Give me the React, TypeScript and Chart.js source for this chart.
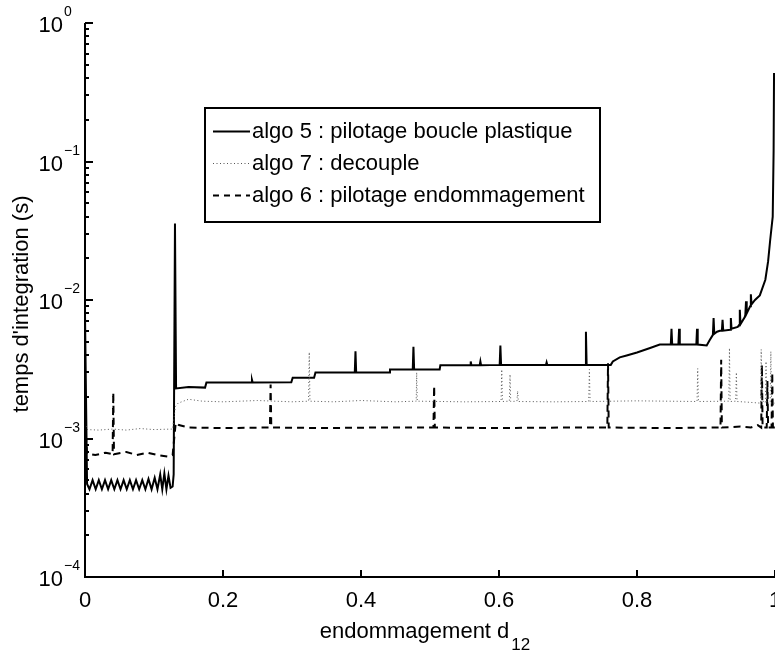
import React, { useEffect, useRef } from 'react';
import { Chart, registerables } from 'chart.js';

Chart.register(...registerables);

// ---------- data (x = endommagement d12, y = temps d'integration in s) ----------
const algo5: [number, number][] = [
  [0, 0.008], [0.003, 0.00047], [0.0065, 0.00043], [0.011, 0.0005], [0.0155, 0.00043], [0.02, 0.0005],
  [0.0245, 0.00043], [0.029, 0.0005], [0.0335, 0.00043], [0.038, 0.0005], [0.0425, 0.00043], [0.047, 0.0005],
  [0.0515, 0.00043], [0.056, 0.0005], [0.0605, 0.00043], [0.065, 0.0005], [0.0695, 0.00043], [0.074, 0.0005],
  [0.0785, 0.00043], [0.083, 0.0005], [0.0875, 0.00043], [0.092, 0.00051], [0.0965, 0.00043], [0.101, 0.00052],
  [0.105, 0.00043], [0.109, 0.00055], [0.112, 0.00043], [0.115, 0.00056], [0.118, 0.00043], [0.121, 0.00054],
  [0.124, 0.00044], [0.127, 0.00045], [0.1285, 0.00055], [0.1304, 0.0356], [0.132, 0.0023], [0.15, 0.00235],
  [0.174, 0.00233], [0.176, 0.00254], [0.241, 0.00254], [0.242, 0.00265], [0.243, 0.00254], [0.299, 0.00255],
  [0.301, 0.00275], [0.332, 0.00275], [0.334, 0.003], [0.391, 0.003], [0.392, 0.00427], [0.393, 0.003],
  [0.441, 0.003], [0.442, 0.00315], [0.475, 0.00315], [0.476, 0.0046], [0.477, 0.00315], [0.514, 0.00315],
  [0.515, 0.00338], [0.558, 0.00338], [0.559, 0.0036], [0.56, 0.00338], [0.572, 0.00338], [0.573, 0.0036],
  [0.574, 0.00338], [0.601, 0.0034], [0.602, 0.0047], [0.603, 0.0034], [0.668, 0.0034], [0.669, 0.00355],
  [0.67, 0.0034], [0.725, 0.0034], [0.726, 0.0059], [0.727, 0.0034], [0.762, 0.0034], [0.765, 0.0036],
  [0.775, 0.00385], [0.785, 0.00398], [0.8, 0.00418], [0.819, 0.0045], [0.833, 0.00477], [0.849, 0.00477],
  [0.85, 0.0062], [0.851, 0.00477], [0.86, 0.00477], [0.861, 0.0062], [0.862, 0.00477], [0.886, 0.00477],
  [0.887, 0.0062], [0.888, 0.00477], [0.901, 0.0047], [0.905, 0.0051], [0.91, 0.0056], [0.911, 0.0074],
  [0.912, 0.0057], [0.916, 0.0059], [0.92, 0.006], [0.923, 0.006], [0.924, 0.0072], [0.925, 0.006],
  [0.935, 0.0061], [0.936, 0.0074], [0.937, 0.0062], [0.946, 0.0064], [0.948, 0.0066], [0.949, 0.0085],
  [0.95, 0.0067], [0.956, 0.0075], [0.957, 0.0078], [0.958, 0.0098], [0.959, 0.008], [0.964, 0.009],
  [0.965, 0.011], [0.966, 0.0093], [0.971, 0.01], [0.978, 0.0108], [0.986, 0.014], [0.99, 0.019],
  [0.993, 0.027], [0.9967, 0.04], [0.998, 0.12], [0.9986, 0.436],
];

const algo7: [number, number][] = [
  [0, 0.0013], [0.003, 0.00116], [0.02, 0.00115], [0.04, 0.00117], [0.06, 0.00115], [0.08, 0.00118],
  [0.1, 0.00116], [0.127, 0.00117], [0.131, 0.0017], [0.135, 0.0018], [0.15, 0.00192], [0.17, 0.00186],
  [0.2, 0.00184], [0.25, 0.00188], [0.3, 0.00184], [0.324, 0.00186], [0.325, 0.0042], [0.326, 0.00186],
  [0.36, 0.00184], [0.4, 0.00188], [0.45, 0.00184], [0.48, 0.00186], [0.4807, 0.003], [0.4815, 0.00186],
  [0.55, 0.00184], [0.603, 0.00185], [0.604, 0.00315], [0.605, 0.00185], [0.615, 0.00186], [0.616, 0.0029],
  [0.617, 0.00185], [0.626, 0.00186], [0.627, 0.0022], [0.628, 0.00185], [0.68, 0.00184], [0.73, 0.00185],
  [0.731, 0.00315], [0.732, 0.00185], [0.8, 0.00187], [0.887, 0.00185], [0.888, 0.0032], [0.889, 0.00185],
  [0.933, 0.00186], [0.934, 0.0045], [0.935, 0.00185], [0.943, 0.00186], [0.944, 0.003], [0.945, 0.00185],
  [0.96, 0.00183], [0.979, 0.0018], [0.98, 0.0044], [0.981, 0.0019], [0.986, 0.0018], [0.987, 0.0036],
  [0.988, 0.0018], [0.993, 0.0018], [0.994, 0.00425], [0.995, 0.0018], [1.0, 0.0018],
];

const algo6: [number, number][] = [
  [0, 0.0013], [0.003, 0.00078], [0.015, 0.00076], [0.03, 0.00079], [0.04, 0.00077], [0.041, 0.00215],
  [0.042, 0.00077], [0.06, 0.0008], [0.075, 0.00076], [0.09, 0.00079], [0.105, 0.00076], [0.12, 0.00074],
  [0.127, 0.00076], [0.1315, 0.0013], [0.136, 0.00125], [0.15, 0.0012], [0.2, 0.00119], [0.268, 0.0012],
  [0.269, 0.00245], [0.27, 0.0012], [0.35, 0.00119], [0.42, 0.0012], [0.505, 0.0012], [0.506, 0.0024],
  [0.507, 0.0012], [0.6, 0.00119], [0.7, 0.0012], [0.757, 0.0012], [0.758, 0.0035], [0.759, 0.0012],
  [0.85, 0.00119], [0.921, 0.0012], [0.922, 0.0037], [0.923, 0.0012], [0.95, 0.00122], [0.965, 0.0012],
  [0.975, 0.00125], [0.98, 0.0012], [0.981, 0.0034], [0.982, 0.0012], [0.988, 0.0012], [0.989, 0.0026],
  [0.99, 0.0012], [0.995, 0.0012], [0.996, 0.003], [0.997, 0.0012], [1.0, 0.0012],
];

const seriesLabels = [
  'algo 5 : pilotage boucle plastique',
  'algo 7 : decouple',
  'algo 6 : pilotage endommagement',
];
const xTickValues = [0, 0.2, 0.4, 0.6, 0.8, 1];
const xTickLabels = ['0', '0.2', '0.4', '0.6', '0.8', '1'];
const yDecades = [-4, -3, -2, -1, 0];
const xTitle = 'endommagement d';
const xTitleSub = '12';
const yTitle = "temps d'integration (s)";

const FONT = '"Liberation Sans", Arial, Helvetica, sans-serif';

const matlabAxes = {
  id: 'matlabAxes',
  afterDraw(chart: any) {
    const ctx: CanvasRenderingContext2D = chart.ctx;
    const { left, right, top, bottom } = chart.chartArea;
    const xs = chart.scales.x;
    const ys = chart.scales.y;
    ctx.save();
    ctx.strokeStyle = '#000';
    ctx.fillStyle = '#000';
    ctx.setLineDash([]);

    // axis lines
    ctx.lineWidth = 2;
    ctx.beginPath();
    ctx.moveTo(left, top);
    ctx.lineTo(left, bottom);
    ctx.lineTo(right + 2, bottom);
    ctx.stroke();

    // y ticks (inward)
    for (const e of yDecades) {
      const py = Math.round(ys.getPixelForValue(Math.pow(10, e)));
      ctx.beginPath();
      ctx.moveTo(left, py);
      ctx.lineTo(left + 8, py);
      ctx.stroke();
      if (e < 0) {
        for (let k = 2; k <= 9; k++) {
          const pm = Math.round(ys.getPixelForValue(k * Math.pow(10, e)));
          ctx.beginPath();
          ctx.moveTo(left, pm);
          ctx.lineTo(left + 4, pm);
          ctx.stroke();
        }
      }
    }
    // x ticks (inward)
    for (const v of xTickValues) {
      const px = Math.round(xs.getPixelForValue(v));
      ctx.beginPath();
      ctx.moveTo(px, bottom);
      ctx.lineTo(px, bottom - 7);
      ctx.stroke();
    }

    // y tick labels 10^e
    for (const e of yDecades) {
      const py = ys.getPixelForValue(Math.pow(10, e));
      ctx.font = `22px ${FONT}`;
      ctx.textAlign = 'right';
      ctx.textBaseline = 'alphabetic';
      ctx.fillText('10', 63, py + 9);
      ctx.font = `14px ${FONT}`;
      ctx.textAlign = 'left';
      ctx.fillText(e === 0 ? '0' : '\u2212' + String(-e), 64, py - 7);
    }

    // x tick labels
    ctx.font = `22px ${FONT}`;
    ctx.textAlign = 'center';
    ctx.textBaseline = 'alphabetic';
    xTickValues.forEach((v, i) => {
      ctx.fillText(xTickLabels[i], xs.getPixelForValue(v), bottom + 29.5);
    });

    // x title with subscript
    ctx.font = `22px ${FONT}`;
    const w1 = ctx.measureText(xTitle).width;
    ctx.font = `17px ${FONT}`;
    const w2 = ctx.measureText(xTitleSub).width;
    const total = w1 + 2 + w2;
    const sx = (left + right) / 2 - 5 - total / 2;
    ctx.textAlign = 'left';
    ctx.font = `22px ${FONT}`;
    ctx.fillText(xTitle, sx, 638);
    ctx.font = `17px ${FONT}`;
    ctx.fillText(xTitleSub, sx + w1 + 2, 650);

    // y title
    ctx.font = `22px ${FONT}`;
    ctx.save();
    ctx.translate(28, (top + bottom) / 2 + 4);
    ctx.rotate(-Math.PI / 2);
    ctx.textAlign = 'center';
    ctx.fillText(yTitle, 0, 0);
    ctx.restore();

    // legend
    const bx = 205, by = 108, bw = 395, bh = 114;
    ctx.fillStyle = '#fff';
    ctx.fillRect(bx, by, bw, bh);
    ctx.strokeStyle = '#000';
    ctx.lineWidth = 2;
    ctx.strokeRect(bx, by, bw, bh);
    const rows = [138, 170, 202];
    const styles = [
      { dash: [] as number[], width: 2, color: '#000' },
      { dash: [1, 2.5], width: 1, color: '#555' },
      { dash: [6, 5], width: 2, color: '#000' },
    ];
    ctx.font = `22px ${FONT}`;
    ctx.textAlign = 'left';
    rows.forEach((ry, i) => {
      const st = styles[i];
      ctx.strokeStyle = st.color;
      ctx.lineWidth = st.width;
      ctx.setLineDash(st.dash);
      ctx.beginPath();
      ctx.moveTo(213, ry - 6.5);
      ctx.lineTo(250, ry - 6.5);
      ctx.stroke();
      ctx.setLineDash([]);
      ctx.fillStyle = '#000';
      ctx.fillText(seriesLabels[i], 252, ry);
    });
    ctx.restore();
  },
};

export default function App() {
  const ref = useRef<HTMLCanvasElement>(null);
  useEffect(() => {
    document.body.style.margin = '0';
    document.body.style.overflow = 'hidden';
    const toPts = (a: [number, number][]) => a.map(([x, y]) => ({ x, y }));
    const chart = new Chart(ref.current as HTMLCanvasElement, {
      type: 'line',
      data: {
        datasets: [
          {
            label: seriesLabels[1],
            data: toPts(algo7),
            borderColor: '#555',
            borderWidth: 1,
            borderDash: [1, 2.5],
            pointRadius: 0,
            tension: 0,
          },
          {
            label: seriesLabels[2],
            data: toPts(algo6),
            borderColor: '#000',
            borderWidth: 2,
            borderDash: [7, 5],
            pointRadius: 0,
            tension: 0,
          },
          {
            label: seriesLabels[0],
            data: toPts(algo5),
            borderColor: '#000',
            borderWidth: 2,
            pointRadius: 0,
            tension: 0,
          },
        ],
      },
      options: {
        animation: false,
        responsive: false,
        devicePixelRatio: 1,
        layout: { padding: { top: 23, right: 0, bottom: 0, left: 0 } },
        plugins: { legend: { display: false }, tooltip: { enabled: false } },
        scales: {
          x: {
            type: 'linear',
            min: 0,
            max: 1,
            ticks: { display: false },
            grid: { display: false },
            border: { display: false },
            afterFit: (s: any) => { s.height = 75; },
          },
          y: {
            type: 'logarithmic',
            min: 1e-4,
            max: 1,
            ticks: { display: false },
            grid: { display: false },
            border: { display: false },
            afterFit: (s: any) => { s.width = 85; },
          },
        },
      },
      plugins: [matlabAxes],
    } as any);
    return () => chart.destroy();
  }, []);
  return (
    <div style={{ position: 'fixed', left: 0, top: 0, width: 775, height: 652, background: '#fff' }}>
      <canvas ref={ref} width={775} height={652} style={{ width: 775, height: 652, display: 'block' }} />
    </div>
  );
}
